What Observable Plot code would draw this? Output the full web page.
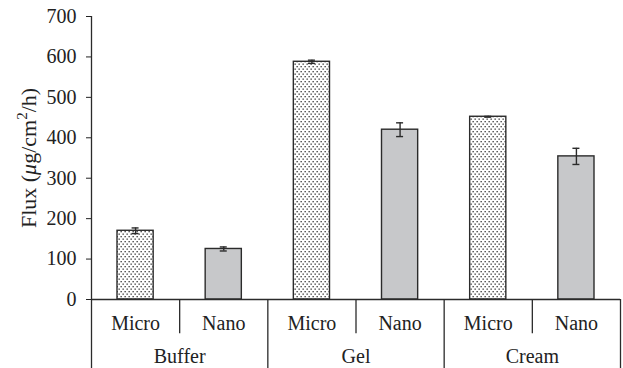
<!DOCTYPE html>
<html>
<head>
<meta charset="utf-8">
<script src="https://cdn.jsdelivr.net/npm/d3@7"></script>
<script src="https://cdn.jsdelivr.net/npm/@observablehq/plot@0.6"></script>
<style>
  html, body { margin: 0; padding: 0; background: #fff; }
  svg { display: block; }
</style>
</head>
<body>
<div id="chart"></div>
<script>
// ---- data ----
const groups = ["Buffer", "Gel", "Cream"];
const forms = ["Micro", "Nano"];
const flux = [170, 125, 588, 420, 452, 354];   // Buffer-Micro, Buffer-Nano, Gel-Micro, Gel-Nano, Cream-Micro, Cream-Nano
const fluxErr = [7, 5, 4, 17, 1, 20];
const yTicks = [0, 100, 200, 300, 400, 500, 600, 700];

// ---- derived table ----
const rows = [];
groups.forEach((g, gi) => forms.forEach((f, fi) => {
  const i = gi * forms.length + fi;
  rows.push({i, group: g, form: f, flux: flux[i], err: fluxErr[i]});
}));
const groupRows = groups.map((g, gi) => ({g, start: gi * forms.length, end: (gi + 1) * forms.length}));
const nSlots = rows.length;
const minorDepth = -85;   // extent of the category divider below the axis (y units)
const majorDepth = -175;  // extent of the group divider below the axis (y units)

const font = "Liberation Serif, Times New Roman, serif";
const ink = "#2b2b2b";
const fs = 20;

const chart = Plot.plot({
  width: 623,
  height: 368,
  marginLeft: 91,
  marginRight: 3,
  marginTop: 16,
  marginBottom: 69,
  style: {fontFamily: font, fontSize: fs + "px", color: "#222", background: "#fff", overflow: "visible"},
  x: {domain: [0, nSlots], axis: null},
  y: {domain: [0, 700], ticks: yTicks, tickSize: 5, tickPadding: 10, label: null, tickFormat: d => String(d)},
  marks: [
    // bars
    Plot.rectY(rows, {
      x1: d => d.i, x2: d => d.i + 1, y: "flux",
      insetLeft: 26, insetRight: 26,
      fill: d => d.form === "Micro" ? "url(#dots)" : "#c7c8ca",
      stroke: ink, strokeWidth: 1.4
    }),
    // error bars
    Plot.ruleX(rows, {x: d => d.i + 0.5, y1: d => d.flux - d.err, y2: d => d.flux + d.err, stroke: ink, strokeWidth: 1.4}),
    Plot.ruleY(rows, {x1: d => d.i + 0.5, x2: d => d.i + 0.5, y: d => d.flux + d.err, insetLeft: -3.5, insetRight: -3.5, stroke: ink, strokeWidth: 1.4}),
    Plot.ruleY(rows, {x1: d => d.i + 0.5, x2: d => d.i + 0.5, y: d => d.flux - d.err, insetLeft: -3.5, insetRight: -3.5, stroke: ink, strokeWidth: 1.4}),
    // x axis line
    Plot.ruleY([0], {x1: 0, x2: nSlots, stroke: ink, strokeWidth: 1.3}),
    // y axis line
    Plot.ruleX([0], {y1: 0, y2: 700, stroke: ink, strokeWidth: 1.3}),
    // minor dividers (between forms)
    Plot.ruleX(rows.filter(d => d.i % forms.length !== 0), {x: d => d.i, y1: 0, y2: minorDepth, stroke: ink, strokeWidth: 1.3}),
    // major dividers (between groups)
    Plot.ruleX(d3.range(0, nSlots + 1, forms.length), {x: d => d, y1: 0, y2: majorDepth, stroke: ink, strokeWidth: 1.3}),
    // form labels
    Plot.text(rows, {x: d => d.i + 0.5, y: 0, text: "form", dy: 24, fontSize: fs, fill: "#222"}),
    // group labels
    Plot.text(groupRows, {x: d => (d.start + d.end) / 2, y: 0, text: "g", dy: 57, fontSize: fs, fill: "#222"})
  ]
});

const svg = d3.select(chart);
// pattern for micro bars
const defs = svg.insert("defs", ":first-child");
const pat = defs.append("pattern").attr("id", "dots").attr("patternUnits", "userSpaceOnUse")
  .attr("width", 4).attr("height", 5);
pat.append("rect").attr("width", 4).attr("height", 5).attr("fill", "#fff");
pat.append("rect").attr("x", 0.5).attr("y", 1).attr("width", 1.3).attr("height", 1.3).attr("fill", "#333");
pat.append("rect").attr("x", 2.5).attr("y", 3.5).attr("width", 1.3).attr("height", 1.3).attr("fill", "#333");

// y axis label with italic mu and superscript 2
const lab = svg.append("text")
  .attr("transform", "translate(36,158) rotate(-90)")
  .attr("text-anchor", "middle")
  .attr("font-family", font)
  .attr("font-size", 22)
  .attr("fill", "#222");
lab.append("tspan").text("Flux (");
lab.append("tspan").attr("font-style", "italic").text("μ");
lab.append("tspan").text("g/cm");
lab.append("tspan").attr("font-size", 15).attr("dy", -9).text("2");
lab.append("tspan").attr("dy", 9).text("/h)");

document.getElementById("chart").appendChild(chart);
</script>
</body>
</html>
